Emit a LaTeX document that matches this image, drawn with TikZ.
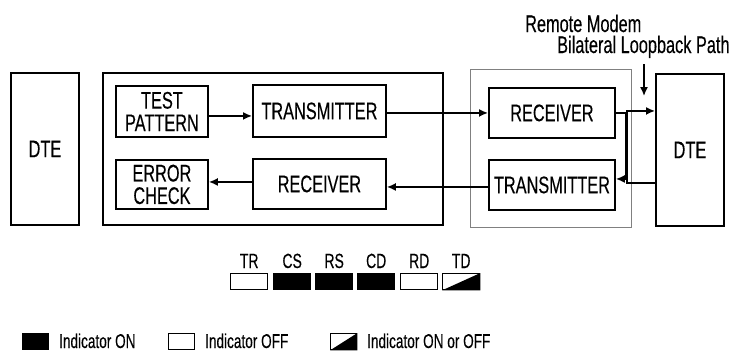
\documentclass[tikz,border=0pt]{standalone}
\usepackage{fontspec}
\setmainfont{Liberation Sans}[FakeStretch=0.68,FakeBold=0.3]
\usetikzlibrary{arrows.meta}
\tikzset{
  box/.style={draw, line width=1.9pt, inner sep=0pt, anchor=north west, align=center,
    font=\fontsize{24}{22.5}\selectfont},
  rbox/.style={draw=gray, line width=1pt, inner sep=0pt, anchor=north west},
  conn/.style={line width=1.5pt, -{Latex[length=9pt,width=8pt]}},
  ind/.style={draw, line width=1.4pt, minimum width=37pt, minimum height=16pt, inner sep=0pt, anchor=north west},
  leg/.style={draw, line width=1.4pt, minimum width=26pt, minimum height=16pt, inner sep=0pt, anchor=north west},
  indlab/.style={anchor=base, inner sep=0pt, font=\fontsize{20.5}{20}\selectfont},
  leglab/.style={anchor=base west, inner sep=0pt, font=\fontsize{20}{19}\selectfont},
  toplab/.style={anchor=base west, inner sep=0pt, font=\fontsize{24}{24}\selectfont}
}
\begin{document}
\begin{tikzpicture}[x=1pt,y=-1pt]
\useasboundingbox (0,0) rectangle (736,357);
% boxes
\node[box, minimum width=68pt, minimum height=152pt] (ldte) at (10,72) {DTE};
\node[box, minimum width=340pt, minimum height=152pt] (lmod) at (102,72) {};
\node[box, minimum width=92pt, minimum height=51pt] (tp) at (115,85) {TEST\\PATTERN};
\node[box, minimum width=133pt, minimum height=52pt] (ltx) at (252,84) {TRANSMITTER};
\node[box, minimum width=92pt, minimum height=49pt] (ec) at (115,159) {ERROR\\CHECK};
\node[box, minimum width=133pt, minimum height=50pt] (lrx) at (252,158) {RECEIVER};
\node[rbox, minimum width=161pt, minimum height=158pt] (rmod) at (470,69) {};
\node[box, minimum width=126pt, minimum height=50pt] (rrx) at (488,87) {RECEIVER};
\node[box, minimum width=126pt, minimum height=50pt] (rtx) at (488,159) {TRANSMITTER};
\node[box, minimum width=68pt, minimum height=152pt] (rdte) at (655,73) {DTE};
% connectors
\draw[conn] ([yshift=-4.5pt]tp.east) -- ([yshift=-4.5pt]tp.east -| ltx.west);
\draw[conn] ([yshift=-2pt]ltx.east) -- ([yshift=-2pt]ltx.east -| rrx.west);
\draw[conn] ([yshift=-2pt]rtx.west) -- ([yshift=-2pt]rtx.west -| lrx.east);
\draw[conn] ([yshift=2pt]lrx.west) -- ([yshift=2pt]lrx.west -| ec.east);
% loopbacks
\draw[conn] (rrx.east) -- ++(9.5,0) |- ([yshift=6pt]rtx.east);
\draw[conn] ([yshift=-33pt]rdte.west) -- ++(-28,0) |- ([yshift=39pt]rdte.west);
% label
\node[toplab] (t1) at (525,32) {Remote Modem};
\node[toplab] (t2) at (557,53) {Bilateral Loopback Path};
\coordinate (lbtop) at (644,64);
\coordinate (lbend) at (644,96);
\draw[conn] (lbtop) -- (lbend);
% indicators
\node[ind] (tr) at (230,273) {};
\node[ind, fill=black] (cs) at (273,273) {};
\node[ind, fill=black] (rs) at (315,273) {};
\node[ind, fill=black] (cd) at (357,273) {};
\node[ind] (rd) at (400,273) {};
\node[ind] (td) at (442,273) {};
\fill (td.south west) -- (td.north east) -- (td.south east) -- cycle;
\node[indlab] (ltr) at (tr.center |- 0,268) {TR};
\node[indlab] (lcs) at (cs.center |- 0,268) {CS};
\node[indlab] (lrs) at (rs.center |- 0,268) {RS};
\node[indlab] (lcd) at (cd.center |- 0,268) {CD};
\node[indlab] (lrd) at (rd.center |- 0,268) {RD};
\node[indlab] (ltd) at (td.center |- 0,268) {TD};
% legend
\node[leg, fill=black] (lon) at (22,333) {};
\node[leglab] (lonl) at (59,348) {Indicator ON};
\node[leg] (loff) at (168,333) {};
\node[leglab] (loffl) at (205,348) {Indicator OFF};
\node[leg] (lhalf) at (330,333) {};
\fill (lhalf.south west) -- (lhalf.north east) -- (lhalf.south east) -- cycle;
\node[leglab] (lhalfl) at (367,348) {Indicator ON or OFF};
\end{tikzpicture}
\end{document}
